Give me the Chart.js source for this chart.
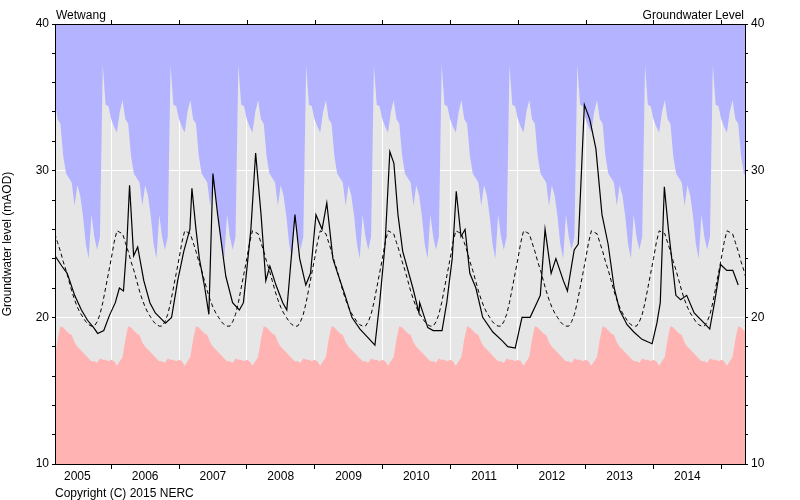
<!DOCTYPE html>
<html>
<head>
<meta charset="utf-8">
<script src="https://cdn.jsdelivr.net/npm/chart.js@4"></script>
<style>
  body { margin: 0; background: #fff; }
  #wrap { width: 800px; height: 500px; }
</style>
</head>
<body>
<div id="wrap"><canvas id="gwChart" width="800" height="500"></canvas></div>
<script>
// range of the plot, decimal years
const xStart = 2005.17;
const xEnd = 2015.35;

// long-term statistics, 24 half-month steps per year (Jan 1st ... Dec 16th)
const maxLevel = [33.5, 33.0, 32.6, 34.0, 34.8, 33.5, 33.2, 31.0, 29.8, 29.5, 29.2, 27.6,
                  29.0, 28.3, 26.9, 25.0, 24.0, 27.0, 25.5, 24.6, 25.5, 37.2, 34.5, 34.4];
const minLevel = [17.1, 17.0, 16.7, 17.0, 17.3, 18.5, 19.4, 19.3, 19.1, 18.9, 18.8, 18.3,
                  18.0, 17.8, 17.6, 17.4, 17.2, 17.0, 17.0, 16.9, 17.2, 17.1, 17.1, 17.0];
const meanLevel = [24.0, 25.1, 25.9, 25.8, 25.7, 25.1, 24.5, 23.8, 23.2, 22.5, 21.8, 21.2,
                   20.7, 20.3, 20.0, 19.7, 19.5, 19.4, 19.4, 19.7, 20.2, 21.0, 22.0, 23.0];

// observed levels (mAOD) and their dates
const obsDates = [2005.17, 2005.27, 2005.35, 2005.46, 2005.56, 2005.65, 2005.74, 2005.80, 2005.89, 2005.97,
  2006.06, 2006.12, 2006.18, 2006.23, 2006.27, 2006.33, 2006.39, 2006.48, 2006.57, 2006.65, 2006.80, 2006.89, 2006.98,
  2007.07, 2007.13, 2007.16, 2007.19, 2007.25, 2007.30, 2007.38, 2007.44, 2007.50, 2007.57, 2007.69, 2007.79, 2007.89, 2007.95,
  2008.06, 2008.13, 2008.21, 2008.28, 2008.34, 2008.43, 2008.53, 2008.59, 2008.71, 2008.78, 2008.87, 2008.94,
  2009.02, 2009.11, 2009.18, 2009.27, 2009.34, 2009.45, 2009.55, 2009.67, 2009.77, 2009.89, 2009.96,
  2010.04, 2010.11, 2010.17, 2010.23, 2010.30, 2010.45, 2010.54, 2010.55, 2010.67, 2010.75, 2010.88, 2010.95,
  2011.03, 2011.09, 2011.16, 2011.22, 2011.29, 2011.38, 2011.48, 2011.63, 2011.77, 2011.85, 2011.96,
  2012.06, 2012.18, 2012.28, 2012.33, 2012.40, 2012.49, 2012.56, 2012.67, 2012.73, 2012.83, 2012.89, 2012.98,
  2013.06, 2013.15, 2013.24, 2013.33, 2013.42, 2013.50, 2013.61, 2013.71, 2013.83, 2013.98,
  2014.05, 2014.10, 2014.16, 2014.22, 2014.33, 2014.40, 2014.49, 2014.60, 2014.77, 2014.83, 2014.90, 2014.99,
  2015.08, 2015.17, 2015.25];
const obsLevel = [24.2, 23.5, 23.0, 21.5, 20.5, 19.8, 19.3, 18.9, 19.1, 20.1,
  21.0, 22.0, 21.8, 25.0, 29.0, 24.2, 24.8, 22.5, 21.0, 20.3, 19.6, 20.0, 22.5,
  24.5, 25.5, 26.0, 28.8, 26.0, 24.0, 22.0, 20.2, 29.8, 27.0, 22.8, 21.0, 20.5, 21.0,
  26.0, 31.2, 27.0, 22.5, 23.5, 22.2, 21.0, 20.5, 27.0, 24.0, 22.2, 23.0,
  27.0, 26.0, 27.8, 24.0, 23.0, 21.5, 20.0, 19.2, 18.7, 18.1, 21.0,
  25.0, 31.3, 30.5, 27.0, 24.5, 22.0, 20.3, 21.0, 19.3, 19.1, 19.1, 21.0,
  24.0, 28.6, 25.5, 26.0, 23.0, 22.0, 20.0, 19.0, 18.4, 18.0, 17.9,
  20.0, 20.0, 21.0, 21.5, 26.0, 23.0, 24.0, 22.5, 21.8, 24.6, 25.0, 34.5,
  33.5, 31.5, 27.0, 25.0, 22.0, 20.5, 19.5, 19.0, 18.5, 18.2,
  19.6, 21.0, 28.9, 26.0, 21.5, 21.2, 21.5, 20.3, 19.5, 19.2, 21.0, 23.6,
  23.2, 23.2, 22.2];

const yearTicks = [2005, 2006, 2007, 2008, 2009, 2010, 2011, 2012, 2013, 2014, 2015];

// repeat the yearly statistics across the plotted range
function spread(stat) {
    const pts = [];
    for (let y = 2004; y <= 2016; y++) {
        stat.forEach((v, i) => {
            const t = y + i / 24;
            if (t >= xStart - 0.1 && t <= xEnd + 0.1) pts.push({ x: t, y: v });
        });
    }
    return pts;
}

const observed = obsDates.map((d, i) => ({ x: d, y: obsLevel[i] }));

const frame = {
    id: 'frame',
    beforeDraw(chart) {
        const { ctx, chartArea: a } = chart;
        ctx.save();
        ctx.fillStyle = '#e6e6e6';
        ctx.fillRect(a.left, a.top, a.right - a.left, a.bottom - a.top);
        ctx.restore();
    },
    afterDraw(chart) {
        const { ctx, chartArea: a } = chart;
        ctx.save();
        ctx.strokeStyle = '#000';
        ctx.lineWidth = 1;
        ctx.strokeRect(a.left + 0.5, a.top + 0.5, a.right - a.left, a.bottom - a.top);
        // top tick marks at year boundaries
        const xs = chart.scales.x;
        yearTicks.forEach(y => {
            const px = Math.round(xs.getPixelForValue(y)) + 0.5;
            if (px > a.left && px < a.right) {
                ctx.beginPath(); ctx.moveTo(px, a.top - 4); ctx.lineTo(px, a.top); ctx.stroke();
            }
        });
        ctx.fillStyle = '#000';
        ctx.font = '12px "Liberation Sans", Arial, sans-serif';
        ctx.textBaseline = 'alphabetic';
        ctx.textAlign = 'left';
        ctx.fillText('Wetwang', a.left + 1, 19);
        ctx.textAlign = 'right';
        ctx.fillText('Groundwater Level', a.right - 1, 19);
        ctx.textAlign = 'left';
        ctx.fillText('Copyright (C) 2015 NERC', a.left, 497);
        ctx.restore();
    }
};

const font = { family: '"Liberation Sans", Arial, sans-serif', size: 12 };

function yAxis(pos) {
    return {
        position: pos,
        min: 10, max: 40,
        afterBuildTicks: s => { s.ticks = []; for (let v = 10; v <= 40; v += 2) s.ticks.push({ value: v }); },
        afterFit: s => { s.width = 55; },
        ticks: {
            color: '#000', font: font, padding: 3, autoSkip: false,
            callback: v => (v % 10 === 0 ? v : '')
        },
        grid: {
            drawOnChartArea: pos === 'left',
            color: c => (c.tick && (c.tick.value === 20 || c.tick.value === 30) ? '#ffffff' : 'rgba(0,0,0,0)'),
            tickColor: '#000',
            tickLength: c => (c.tick && c.tick.value % 10 === 0 ? 6 : 3),
            lineWidth: 1
        },
        border: { display: false },
        title: pos === 'left'
            ? { display: true, text: 'Groundwater level (mAOD)', color: '#000', font: font, padding: 0 }
            : { display: false }
    };
}

new Chart(document.getElementById('gwChart'), {
    type: 'line',
    data: {
        datasets: [
            { label: 'Observed', data: observed, borderColor: '#000', borderWidth: 1.2, pointRadius: 0, fill: false },
            { label: 'Mean', data: spread(meanLevel), borderColor: '#000', borderWidth: 1, borderDash: [4, 3], pointRadius: 0, fill: false },
            { label: 'Max', data: spread(maxLevel), borderWidth: 0, borderColor: 'rgba(0,0,0,0)', backgroundColor: '#b3b3ff', pointRadius: 0, fill: 'end' },
            { label: 'Min', data: spread(minLevel), borderWidth: 0, borderColor: 'rgba(0,0,0,0)', backgroundColor: '#ffb3b3', pointRadius: 0, fill: 'start' }
        ]
    },
    options: {
        responsive: false,
        animation: false,
        layout: { padding: { top: 24, left: 0, right: 0, bottom: 0 } },
        plugins: { legend: { display: false }, tooltip: { enabled: false } },
        scales: {
            x: {
                type: 'linear',
                min: xStart, max: xEnd,
                afterBuildTicks: s => {
                    s.ticks = [];
                    yearTicks.forEach(y => { s.ticks.push({ value: y }); s.ticks.push({ value: y + 0.5 }); });
                    s.ticks = s.ticks.filter(t => t.value >= xStart && t.value <= xEnd);
                },
                afterFit: s => { s.height = 36; },
                ticks: {
                    color: '#000', font: font, autoSkip: false, maxRotation: 0, padding: 0,
                    callback: v => (Math.abs(v % 1 - 0.5) < 0.01 ? String(Math.floor(v)) : '')
                },
                grid: {
                    color: c => (c.tick && Number.isInteger(c.tick.value) ? '#ffffff' : 'rgba(0,0,0,0)'),
                    tickColor: c => (c.tick && Number.isInteger(c.tick.value) ? '#000' : 'rgba(0,0,0,0)'),
                    tickLength: 5
                },
                border: { display: false }
            },
            y: yAxis('left'),
            y2: yAxis('right')
        }
    },
    plugins: [frame]
});
</script>
</body>
</html>
